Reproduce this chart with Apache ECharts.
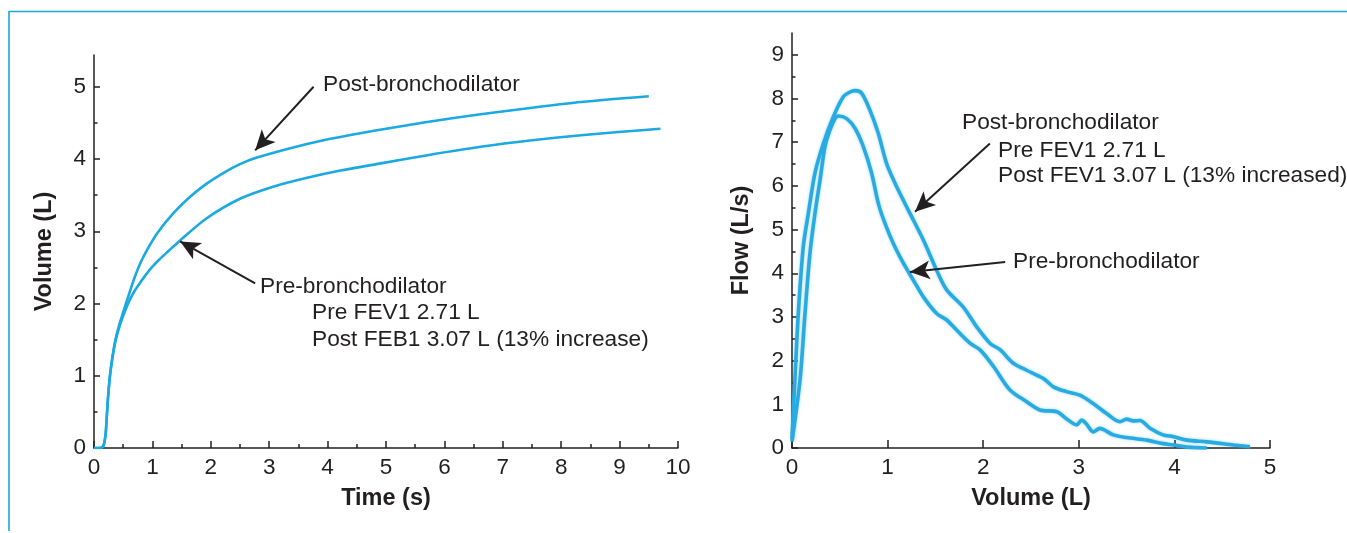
<!DOCTYPE html>
<html>
<head>
<meta charset="utf-8">
<title>Spirometry pre/post bronchodilator</title>
<script src="https://cdn.jsdelivr.net/npm/echarts@6.0.0/dist/echarts.min.js"></script>
<style>
  html, body { margin: 0; padding: 0; background: #fff; }
  #main { width: 1347px; height: 533px; }
</style>
</head>
<body>
<div id="main"></div>
<script>
// volume-time curves: [time (s), volume (L)]
var volTimePost = [
  [0, 0], [0.1, 0], [0.14, 0.01], [0.17, 0.05], [0.2, 0.2], [0.22, 0.45], [0.25, 0.8],
  [0.28, 1.05], [0.32, 1.28], [0.36, 1.47], [0.42, 1.67], [0.5, 1.88], [0.6, 2.13],
  [0.7, 2.37], [0.8, 2.57], [0.9, 2.73], [1.08, 2.97], [1.36, 3.25], [1.65, 3.48],
  [1.93, 3.66], [2.22, 3.81], [2.5, 3.93], [2.79, 4.02], [3.36, 4.15], [3.93, 4.26],
  [4.51, 4.35], [5.08, 4.43], [5.76, 4.52], [6.62, 4.62], [7.5, 4.71], [8.34, 4.79], [9.5, 4.87]
];
var volTimePre = [
  [0, 0], [0.1, 0], [0.14, 0.01], [0.17, 0.05], [0.2, 0.2], [0.22, 0.45], [0.25, 0.8],
  [0.28, 1.04], [0.32, 1.27], [0.36, 1.45], [0.42, 1.64], [0.5, 1.83], [0.6, 2.03],
  [0.7, 2.18], [0.8, 2.3], [0.9, 2.41], [1.0, 2.51], [1.12, 2.61], [1.28, 2.73],
  [1.47, 2.87], [1.93, 3.18], [2.5, 3.45], [3.08, 3.62], [3.65, 3.74], [4.22, 3.84],
  [4.91, 3.94], [5.76, 4.06], [6.62, 4.17], [7.5, 4.26], [8.34, 4.33], [9.7, 4.42]
];

// flow-volume curves: [volume (L), flow (L/s)]
var flowVolPost = [
  [0, 0.2], [0.03, 1.56], [0.066, 3.08], [0.118, 4.61], [0.171, 5.37], [0.24, 6.29],
  [0.328, 6.97], [0.432, 7.58], [0.537, 8.04], [0.607, 8.15], [0.659, 8.18], [0.729, 8.12],
  [0.816, 7.73], [0.903, 7.2], [0.99, 6.51], [1.095, 5.98], [1.234, 5.37], [1.374, 4.76],
  [1.513, 4.07], [1.618, 3.62], [1.79, 3.23], [1.93, 2.78], [2.07, 2.4], [2.176, 2.25],
  [2.315, 1.94], [2.455, 1.78], [2.63, 1.59], [2.734, 1.4], [2.87, 1.29], [3.01, 1.21],
  [3.15, 1.02], [3.29, 0.79], [3.43, 0.6], [3.5, 0.66], [3.57, 0.62], [3.64, 0.63],
  [3.745, 0.45], [3.88, 0.3], [3.99, 0.26], [4.13, 0.18], [4.34, 0.14], [4.62, 0.07], [4.79, 0.03]
];
var flowVolPre = [
  [0, 0.15], [0.084, 1.56], [0.136, 3.08], [0.188, 4.46], [0.24, 5.37], [0.293, 6.13],
  [0.345, 6.9], [0.397, 7.28], [0.45, 7.54], [0.484, 7.6], [0.572, 7.54], [0.659, 7.32],
  [0.746, 6.9], [0.833, 6.29], [0.903, 5.6], [0.973, 5.14], [1.06, 4.68], [1.165, 4.23],
  [1.27, 3.84], [1.374, 3.46], [1.513, 3.08], [1.618, 2.93], [1.722, 2.7], [1.862, 2.4],
  [1.97, 2.24], [2.11, 1.86], [2.28, 1.33], [2.455, 1.06], [2.594, 0.87], [2.77, 0.83],
  [2.87, 0.67], [2.98, 0.53], [3.03, 0.64], [3.08, 0.55], [3.15, 0.37], [3.22, 0.45],
  [3.36, 0.3], [3.5, 0.24], [3.71, 0.18], [3.88, 0.1], [3.99, 0.07], [4.13, 0.02], [4.34, 0]
];

// tick values
var volTicks = [0, 1, 2, 3, 4, 5];
var volMinor = [0.5, 1.5, 2.5, 3.5, 4.5];
var flowTicks = [0, 1, 2, 3, 4, 5, 6, 7, 8, 9];
var flowMinor = [0.5, 1.5, 2.5, 3.5, 4.5, 5.5, 6.5, 7.5, 8.5];

// annotation texts
var leftNotes = ['Post-bronchodilator', 'Pre-bronchodilator', 'Pre FEV1 2.71 L', 'Post FEB1 3.07 L (13% increase)'];
var rightNotes = ['Post-bronchodilator', 'Pre FEV1 2.71 L', 'Post FEV1 3.07 L (13% increased)', 'Pre-bronchodilator'];

var FONT = '"Liberation Sans", Arial, Helvetica, sans-serif';
var INK = '#231f20';
var BLUE = '#1ba9e1';

var myChart = echarts.init(document.getElementById('main'), null, { renderer: 'canvas' });

function axisBase(extra) {
  var a = {
    type: 'value',
    splitLine: { show: false },
    axisLine: { show: true, onZero: false, lineStyle: { color: INK, width: 1.5 } },
    axisTick: { show: true, inside: true, length: 7, lineStyle: { color: INK, width: 1.5 } },
    axisLabel: { color: INK, fontSize: 22.5, fontFamily: FONT, margin: 8 },
    nameLocation: 'middle',
    nameTextStyle: { color: INK, fontSize: 23.5, fontWeight: 'bold', fontFamily: FONT }
  };
  for (var k in extra) a[k] = extra[k];
  return a;
}

function minorAxis(gridIndex, max, values) {
  return {
    type: 'value', gridIndex: gridIndex, position: 'left', min: 0, max: max,
    splitLine: { show: false },
    axisLine: { show: false },
    axisLabel: { show: false },
    axisTick: { show: true, inside: true, length: 3.5, customValues: values, lineStyle: { color: INK, width: 1.5 } }
  };
}

function arrow(from, to) {
  return [{ coord: from }, { coord: to }];
}

function note(x, y, text) {
  return {
    type: 'text', x: x, y: y, silent: true,
    style: { text: text, fill: INK, fontSize: 22.7, fontFamily: FONT, verticalAlign: 'middle' }
  };
}

var arrowStyle = {
  silent: true,
  symbol: ['none', 'arrow'],
  symbolSize: [14, 20],
  label: { show: false },
  lineStyle: { color: INK, width: 2, type: 'solid' },
  emphasis: { disabled: true }
};

var option = {
  animation: false,
  backgroundColor: '#fff',
  grid: [
    { left: 94, top: 55, width: 584, height: 393, outerBoundsMode: 'none' },
    { left: 792, top: 33, width: 478, height: 415, outerBoundsMode: 'none' }
  ],
  xAxis: [
    axisBase({
      gridIndex: 0, min: 0, max: 10, interval: 1,
      minorTick: { show: true, splitNumber: 2, length: 4, lineStyle: { color: INK, width: 1.5 } },
      name: 'Time (s)', nameGap: 39
    }),
    axisBase({
      gridIndex: 1, min: 0, max: 5, interval: 1,
      axisTick: { show: true, inside: true, length: 8, lineStyle: { color: INK, width: 1.5 } },
      name: 'Volume (L)', nameGap: 39
    })
  ],
  yAxis: [
    axisBase({
      gridIndex: 0, position: 'left', min: 0, max: 5.44,
      axisTick: { show: true, inside: true, length: 6, customValues: volTicks, lineStyle: { color: INK, width: 1.5 } },
      axisLabel: { color: INK, fontSize: 22.5, fontFamily: FONT, margin: 8, customValues: volTicks },
      name: 'Volume (L)', nameGap: 37
    }),
    minorAxis(0, 5.44, volMinor),
    axisBase({
      gridIndex: 1, position: 'left', min: 0, max: 9.5,
      axisTick: { show: true, inside: true, length: 6, customValues: flowTicks, lineStyle: { color: INK, width: 1.5 } },
      axisLabel: { color: INK, fontSize: 22.5, fontFamily: FONT, margin: 8, customValues: flowTicks },
      name: 'Flow (L/s)', nameGap: 38
    }),
    minorAxis(1, 9.5, flowMinor)
  ],
  series: [
    {
      name: 'Post-bronchodilator', type: 'line', xAxisIndex: 0, yAxisIndex: 0,
      data: volTimePost, smooth: 0.3, showSymbol: false, silent: true,
      lineStyle: { color: BLUE, width: 2.6 },
      markLine: Object.assign({ data: [arrow([3.76, 5.0], [2.76, 4.12])] }, arrowStyle)
    },
    {
      name: 'Pre-bronchodilator', type: 'line', xAxisIndex: 0, yAxisIndex: 0,
      data: volTimePre, smooth: 0.3, showSymbol: false, silent: true,
      lineStyle: { color: BLUE, width: 2.6 },
      markLine: Object.assign({ data: [arrow([2.76, 2.28], [1.475, 2.86])] }, arrowStyle)
    },
    {
      name: 'Post-bronchodilator', type: 'line', xAxisIndex: 1, yAxisIndex: 2,
      data: flowVolPost, smooth: 0.3, showSymbol: false, silent: true,
      lineStyle: { color: '#29abe2', width: 3.6, shadowColor: 'rgba(41,171,226,0.5)', shadowBlur: 3 },
      markLine: Object.assign({ data: [arrow([2.07, 6.97], [1.287, 5.41])] }, arrowStyle)
    },
    {
      name: 'Pre-bronchodilator', type: 'line', xAxisIndex: 1, yAxisIndex: 2,
      data: flowVolPre, smooth: 0.3, showSymbol: false, silent: true,
      lineStyle: { color: '#29abe2', width: 3.6, shadowColor: 'rgba(41,171,226,0.5)', shadowBlur: 3 },
      markLine: Object.assign({ data: [arrow([2.23, 4.26], [1.234, 4.03])] }, arrowStyle)
    }
  ],
  graphic: [
    // thin blue frame lines at top and left
    { type: 'line', silent: true, shape: { x1: 9, y1: 11.5, x2: 1347, y2: 11.5 }, style: { stroke: '#1aa7e0', lineWidth: 1.6 } },
    { type: 'line', silent: true, shape: { x1: 9, y1: 11, x2: 9, y2: 531 }, style: { stroke: '#1aa7e0', lineWidth: 1.6 } },
    note(323, 85, leftNotes[0]),
    note(260, 287, leftNotes[1]),
    note(312, 313, leftNotes[2]),
    note(312, 340, leftNotes[3]),
    note(962, 123, rightNotes[0]),
    note(998, 151, rightNotes[1]),
    note(998, 176, rightNotes[2]),
    note(1013, 262, rightNotes[3])
  ]
};

myChart.setOption(option);
window.addEventListener('resize', myChart.resize);
</script>
</body>
</html>
